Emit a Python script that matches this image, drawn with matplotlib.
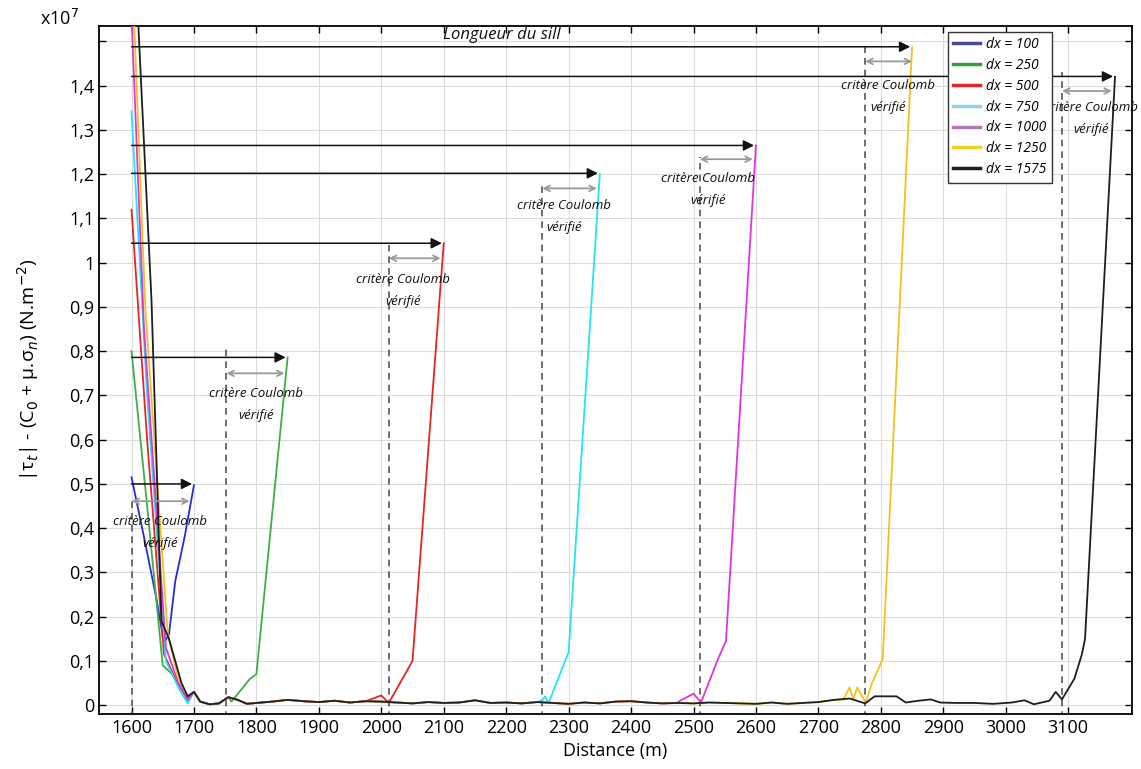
import matplotlib
matplotlib.use("Agg")
import matplotlib.pyplot as plt
from matplotlib.lines import Line2D

plt.rcParams['font.family'] = ['Open Sans', 'DejaVu Sans']
plt.rcParams['mathtext.fontset'] = 'dejavusans'

# valeurs en unites de 1e7 N.m-2
labels = ['dx = 100', 'dx = 250', 'dx = 500', 'dx = 750', 'dx = 1000', 'dx = 1250', 'dx = 1575']
colors = ['#2a2ad6', '#3cb043', '#e82424', '#22e6ee', '#e034e0', '#f2c21a', '#1e1e1e']
legend_colors = ['#4a4a9c', '#2e9e3e', '#e02828', '#8fd0e8', '#b07ab8', '#f0d020', '#1e1e1e']

# fond commun (partie plate des courbes)
floor_x = [1700, 1710, 1725, 1740, 1755, 1770, 1785, 1800, 1825, 1850, 1875, 1900, 1925, 1950,
           1975, 2000, 2025, 2050, 2075, 2100, 2125, 2150, 2175, 2200, 2225, 2250, 2275, 2300,
           2325, 2350, 2375, 2400, 2425, 2450, 2475, 2500, 2525, 2550, 2575, 2600, 2625, 2650,
           2675, 2700, 2725, 2750, 2775, 2790, 2825, 2840, 2860, 2880, 2895, 2920, 2950, 2980,
           3010, 3030, 3045, 3070]
floor_y = [0.030, 0.008, 0.002, 0.004, 0.018, 0.012, 0.003, 0.005, 0.008, 0.012, 0.009, 0.007,
           0.010, 0.006, 0.009, 0.008, 0.006, 0.004, 0.007, 0.005, 0.006, 0.011, 0.005, 0.006,
           0.004, 0.007, 0.005, 0.003, 0.006, 0.004, 0.008, 0.009, 0.006, 0.004, 0.005, 0.004,
           0.006, 0.005, 0.004, 0.003, 0.006, 0.003, 0.005, 0.007, 0.012, 0.015, 0.004, 0.020,
           0.020, 0.006, 0.010, 0.013, 0.006, 0.005, 0.005, 0.003, 0.006, 0.011, 0.002, 0.010]

# debut (descente) de chaque courbe
start_x = [[1600, 1620, 1640, 1652, 1660, 1670, 1685, 1700],
           [1600, 1625, 1650, 1665, 1680, 1690],
           [1600, 1625, 1652, 1670, 1690],
           [1600, 1625, 1655, 1675, 1690],
           [1600, 1620, 1655, 1675, 1690],
           [1600, 1622, 1658, 1675, 1690],
           [1600, 1632, 1648, 1660, 1680, 1690]]
start_y = [[0.515, 0.38, 0.24, 0.14, 0.16, 0.28, 0.38, 0.497],
           [0.80, 0.45, 0.09, 0.07, 0.035, 0.01],
           [1.12, 0.60, 0.115, 0.06, 0.015],
           [1.342, 0.70, 0.10, 0.04, 0.004],
           [1.56, 0.85, 0.13, 0.05, 0.012],
           [1.70, 0.90, 0.16, 0.06, 0.02],
           [1.86, 0.915, 0.19, 0.15, 0.05, 0.02]]
# fin (remontee) de chaque courbe
end_x = [[],
         [1760, 1790, 1800, 1850],
         [2000, 2012, 2030, 2050, 2100],
         [2258, 2262, 2268, 2300, 2350],
         [2476, 2500, 2512, 2540, 2552, 2600],
         [2740, 2750, 2756, 2762, 2776, 2785, 2803, 2850],
         [3080, 3090, 3110, 3122, 3127, 3175]]
end_y = [[],
         [0.008, 0.06, 0.07, 0.786],
         [0.022, 0.005, 0.05, 0.10, 1.044],
         [0.012, 0.02, 0.005, 0.12, 1.20],
         [0.008, 0.026, 0.006, 0.107, 0.145, 1.265],
         [0.013, 0.04, 0.013, 0.04, 0.005, 0.047, 0.104, 1.487],
         [0.03, 0.013, 0.06, 0.115, 0.15, 1.42]]

# position du critere de Coulomb (ligne pointillee) et hauteur des fleches
coulomb_x = [1600, 1752, 2012, 2258, 2510, 2775, 3090]
dash_top = [0.47, 0.81, 1.04, 1.18, 1.24, 1.49, 1.43]
arrow_y = [0.50, 0.786, 1.044, 1.202, 1.265, 1.488, 1.421]
gray_y = [0.461, 0.75, 1.01, 1.168, 1.234, 1.455, 1.388]
gray_end = [1693, 1845, 2095, 2345, 2595, 2850, 3170]
text_x = [1645, 1800, 2035, 2292, 2523, 2812, 3137]
text_y = [0.416, 0.705, 0.963, 1.13, 1.19, 1.40, 1.351]

yticks = [0, 0.1, 0.2, 0.3, 0.4, 0.5, 0.6, 0.7, 0.8, 0.9, 1.0, 1.1, 1.2, 1.3, 1.4, 1.5]
ytick_labels = ['0', '0,1', '0,2', '0,3', '0,4', '0,5', '0,6', '0,7', '0,8', '0,9',
                '1', '1,1', '1,2', '1,3', '1,4', '']
xticks = list(range(1600, 3101, 100))

fig = plt.figure(figsize=(11.41, 7.69), dpi=100)
ax = fig.add_axes([0.0868, 0.0715, 0.9052, 0.8947])

for i in range(len(labels)):
    xs = list(start_x[i])
    ys = list(start_y[i])
    if end_x[i]:
        lo = xs[-1]
        hi = end_x[i][0]
        for fx, fy in zip(floor_x, floor_y):
            if lo < fx < hi:
                xs.append(fx)
                ys.append(fy)
        xs += end_x[i]
        ys += end_y[i]
    ax.plot(xs, ys, color=colors[i], lw=1.3, zorder=3)

for i in range(len(labels)):
    ax.plot([coulomb_x[i], coulomb_x[i]], [-0.03, dash_top[i]], color='#555555',
            lw=1.2, ls=(0, (4, 3)), zorder=2)
    peak = (start_x[i] + end_x[i])[-1]
    ax.annotate('', xy=(peak - 3, arrow_y[i]), xytext=(1600, arrow_y[i]),
                arrowprops=dict(arrowstyle='-|>', color='#111111', lw=1.1,
                                mutation_scale=16, shrinkA=0, shrinkB=0), zorder=4)
    ax.annotate('', xy=(gray_end[i], gray_y[i]), xytext=(coulomb_x[i], gray_y[i]),
                arrowprops=dict(arrowstyle='<->', color='#9a9a9a', lw=1.3,
                                mutation_scale=10, shrinkA=0, shrinkB=0), zorder=4)
    ax.text(text_x[i], text_y[i], 'critère Coulomb', ha='center', va='center',
            fontsize=9.5, style='italic', color='#111111', zorder=5)
    ax.text(text_x[i], text_y[i] - 0.05, 'vérifié', ha='center', va='center',
            fontsize=9.5, style='italic', color='#111111', zorder=5)

ax.text(2193, 1.514, 'Longueur du sill', ha='center', va='center', fontsize=12,
        style='italic', color='#111111')

ax.set_xlim(1548, 3202)
ax.set_ylim(-0.02, 1.535)
ax.set_xticks(xticks)
ax.set_xticklabels([str(v) for v in xticks])
ax.set_yticks(yticks)
ax.set_yticklabels(ytick_labels)
ax.tick_params(direction='in', top=True, right=True, labelsize=13, length=5, width=1)
ax.grid(True, color='#dcdcdc', lw=0.8)
for s in ax.spines.values():
    s.set_linewidth(1.3)

ax.set_xlabel('Distance (m)', fontsize=13, labelpad=4)
ax.set_ylabel('|τ$_t$| - (C$_0$ + µ.σ$_n$) (N.m$^{-2}$)', fontsize=14, labelpad=20)
fig.text(0.035, 0.975, r'x10$^7$', fontsize=13, va='center')

handles = [Line2D([0], [0], color=c, lw=2.5) for c in legend_colors]
leg = ax.legend(handles, labels, loc='upper left', bbox_to_anchor=(0.815, 1.002), fontsize=10,
                frameon=True, fancybox=False, edgecolor='#333333', framealpha=1,
                handlelength=1.9, handletextpad=0.45, labelspacing=0.42, borderpad=0.4)
for t in leg.get_texts():
    t.set_style('italic')
leg.set_zorder(6)

fig.savefig('out.png', dpi=100)
